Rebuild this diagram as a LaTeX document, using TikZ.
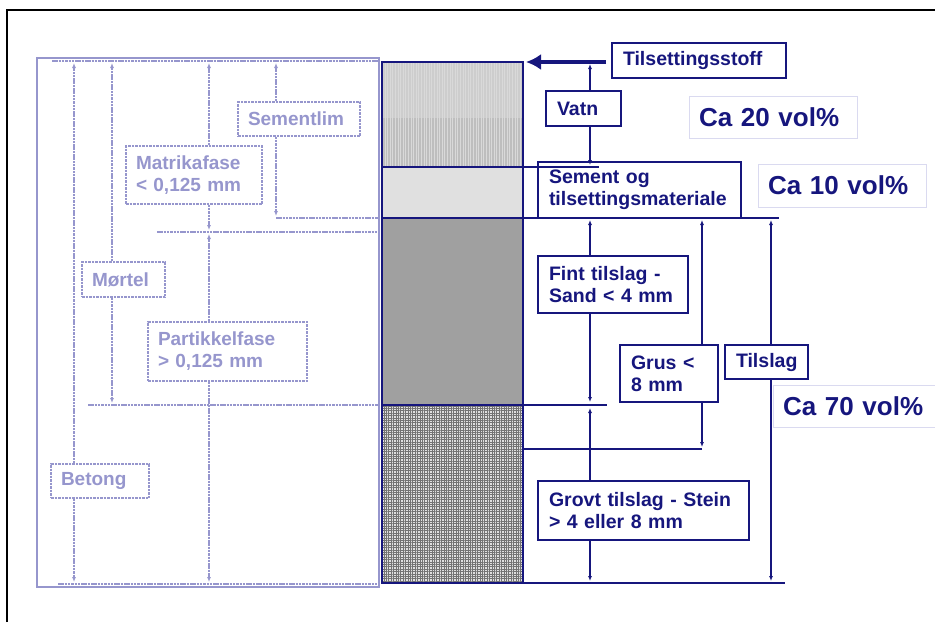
\documentclass[tikz,border=0pt]{standalone}
\usepackage{fontspec}
\setmainfont{Liberation Sans}
\usetikzlibrary{arrows.meta,patterns.meta}
\definecolor{navy}{RGB}{22,22,125}
\definecolor{faded}{RGB}{150,150,205}
\definecolor{cabox}{RGB}{218,218,240}
\definecolor{wtop}{RGB}{205,205,205}
\definecolor{wbot}{RGB}{190,190,190}
\definecolor{cemc}{RGB}{224,224,224}
\definecolor{finec}{RGB}{160,160,160}
\begin{document}
\begin{tikzpicture}[x=1pt,y=-1pt,
  lbl/.style={draw=navy,line width=1.8pt,text=navy,font=\fontsize{19.5}{22}\selectfont\bfseries,align=left,inner xsep=11pt,inner ysep=0pt},
  cab/.style={draw=cabox,line width=1pt,text=navy,font=\fontsize{26}{28}\selectfont\bfseries,align=left,inner xsep=10pt,inner ysep=0pt},
  fbx/.style={draw=faded,line width=1.2pt,dash pattern=on 2.5pt off 1pt,text=faded,font=\fontsize{19}{22}\selectfont\bfseries,align=left,inner xsep=10pt,inner ysep=0pt},
  dimn/.style={draw=navy,line width=1.3pt,-{Latex[length=5pt,width=4pt]}},
  nline/.style={draw=navy,line width=2pt},
  fdim/.style={draw=faded,line width=1.2pt,dash pattern=on 2.5pt off 0.8pt,-{Latex[length=5pt,width=4pt]}},
  fline/.style={draw=faded,line width=1.2pt,dash pattern=on 2.5pt off 0.8pt}]
\useasboundingbox (0,0) rectangle (935,622);
% outer frame
\draw[black,line width=2pt] (7,622) -- (7,10) -- (935,10);

% ---------- faded left part ----------
\draw[faded,line width=1.6pt] (37,58) rectangle (379,587);
\coordinate (fR61) at (379,61);
\coordinate (fR218) at (379,218);
\coordinate (fR232) at (379,232);
\coordinate (fR405) at (379,405);
\coordinate (fR584) at (379,584);
\draw[fline] (52,61) -- (fR61);
\draw[fline] (157,232) -- (fR232);
\draw[fline] (88,405) -- (fR405);
\draw[fline] (58,584) -- (fR584);

\node[fbx,text width=102pt,minimum height=34pt] (sementlim) at (299,119) {Sementlim};
\node[fbx,text width=116pt,minimum height=58pt] (matrika) at (194,175) {Matrikafase\\< 0,125 mm};
\node[fbx,text width=63pt,minimum height=35pt] (mortel) at (123.5,279.5) {Mørtel};
\node[fbx,text width=139pt,minimum height=59pt] (partikkel) at (227.5,351.5) {Partikkelfase\\> 0,125 mm};
\node[fbx,text width=78pt,minimum height=34pt] (betong) at (100,481) {Betong};

\coordinate (B1) at (74,63);  \coordinate (B2) at (74,582);
\coordinate (M1) at (112,63); \coordinate (M2) at (112,403);
\coordinate (X1) at (209,63); \coordinate (X2a) at (209,230); \coordinate (X2b) at (209,234); \coordinate (X3) at (209,582);
\coordinate (S1) at (276,63); \coordinate (S2) at (276,216); \coordinate (S3) at (276,218);
\draw[fdim] (betong.north -| B1) -- (B1);
\draw[fdim] (betong.south -| B2) -- (B2);
\draw[fdim] (mortel.north -| M1) -- (M1);
\draw[fdim] (mortel.south -| M2) -- (M2);
\draw[fdim] (matrika.north -| X1) -- (X1);
\draw[fdim] (matrika.south -| X2a) -- (X2a);
\draw[fdim] (partikkel.north -| X2b) -- (X2b);
\draw[fdim] (partikkel.south -| X3) -- (X3);
\draw[fdim] (sementlim.north -| S1) -- (S1);
\draw[fdim] (sementlim.south -| S2) -- (S2);
\draw[fline] (S3) -- (fR218);

% ---------- column ----------
\fill[wtop] (382,62) rectangle (523,118);
\fill[wbot] (382,118) rectangle (523,167);
\fill[pattern={Lines[angle=90,distance=2.6pt,line width=0.5pt]},pattern color=black!15] (382,62) rectangle (523,167);
\fill[cemc] (382,167) rectangle (523,218);
\fill[finec] (382,218) rectangle (523,405);
\fill[black!12] (382,405) rectangle (523,583);
\fill[pattern={Lines[angle=0,distance=2.4pt,line width=0.75pt]},pattern color=black!55] (382,405) rectangle (523,583);
\fill[pattern={Lines[angle=90,distance=2.4pt,line width=0.75pt]},pattern color=black!55] (382,405) rectangle (523,583);
\coordinate (cTL) at (382,62);
\coordinate (cTR) at (523,62);
\coordinate (cBR) at (523,583);
\draw[nline] (cTL) rectangle (cBR);

\coordinate (h167) at (599,167);
\coordinate (h218) at (779,218);
\coordinate (h405) at (607,405);
\coordinate (h583) at (785,583);
\draw[nline] (382,167) -- (h167);
\draw[nline] (382,218) -- (h218);
\draw[nline] (382,405) -- (h405);
\draw[nline] (cBR) -- (h583);

% ---------- right labels ----------
\node[lbl,text width=152pt,minimum height=35pt] (tilset) at (699,60.5) {Tilsettingsstoff};
\node[lbl,text width=53pt,minimum height=35pt] (vatn) at (583.5,108.5) {Vatn};
\node[lbl,text width=181pt,minimum height=56pt] (sement) at (639.5,190) {Sement og\\tilsettingsmateriale};
\node[lbl,text width=128pt,minimum height=57pt] (fint) at (613,284.5) {Fint tilslag -\\Sand < 4 mm};
\node[lbl,text width=76pt,minimum height=57pt] (grus) at (669,373.5) {Grus <\\8 mm};
\node[lbl,text width=61pt,minimum height=34pt] (tilslag) at (766.5,362) {Tilslag};
\node[lbl,text width=189pt,minimum height=59pt] (grovt) at (643.5,510.5) {Grovt tilslag - Stein\\> 4 eller 8 mm};

\node[cab,text width=148pt,minimum height=42pt] (ca20) at (773,117) {Ca 20 vol\%};
\node[cab,text width=148pt,minimum height=43pt] (ca10) at (842,185.5) {Ca 10 vol\%};
\node[cab,text width=152pt,minimum height=42pt] (ca70) at (859,406) {Ca 70 vol\%};

% additive arrow
\draw[draw=navy,line width=3.5pt,-{Latex[length=15pt,width=16pt]}] ([xshift=-5pt]tilset.west |- cTR) -- ([xshift=3pt]cTR);

% dimension lines
\coordinate (V1) at (590,64);
\coordinate (V2) at (590,165);
\coordinate (A1) at (590,220);
\coordinate (A2a) at (590,402);
\coordinate (A2b) at (590,408);
\coordinate (A3) at (590,581);
\coordinate (G1) at (702,220);
\coordinate (G2) at (702,447);
\coordinate (G3) at (702,449);
\coordinate (T1) at (771,220);
\coordinate (T2) at (771,581);
\draw[dimn] (vatn.north -| V1) -- (V1);
\draw[dimn] (vatn.south -| V2) -- (V2);
\draw[dimn] (fint.north -| A1) -- (A1);
\draw[dimn] (fint.south -| A2a) -- (A2a);
\draw[dimn] (grovt.north -| A2b) -- (A2b);
\draw[dimn] (grovt.south -| A3) -- (A3);
\draw[dimn] (grus.north -| G1) -- (G1);
\draw[dimn] (grus.south -| G2) -- (G2);
\draw[nline] (G3) -- (G3 -| cBR);
\draw[dimn] (tilslag.north -| T1) -- (T1);
\draw[dimn] (tilslag.south -| T2) -- (T2);
\end{tikzpicture}
\end{document}
